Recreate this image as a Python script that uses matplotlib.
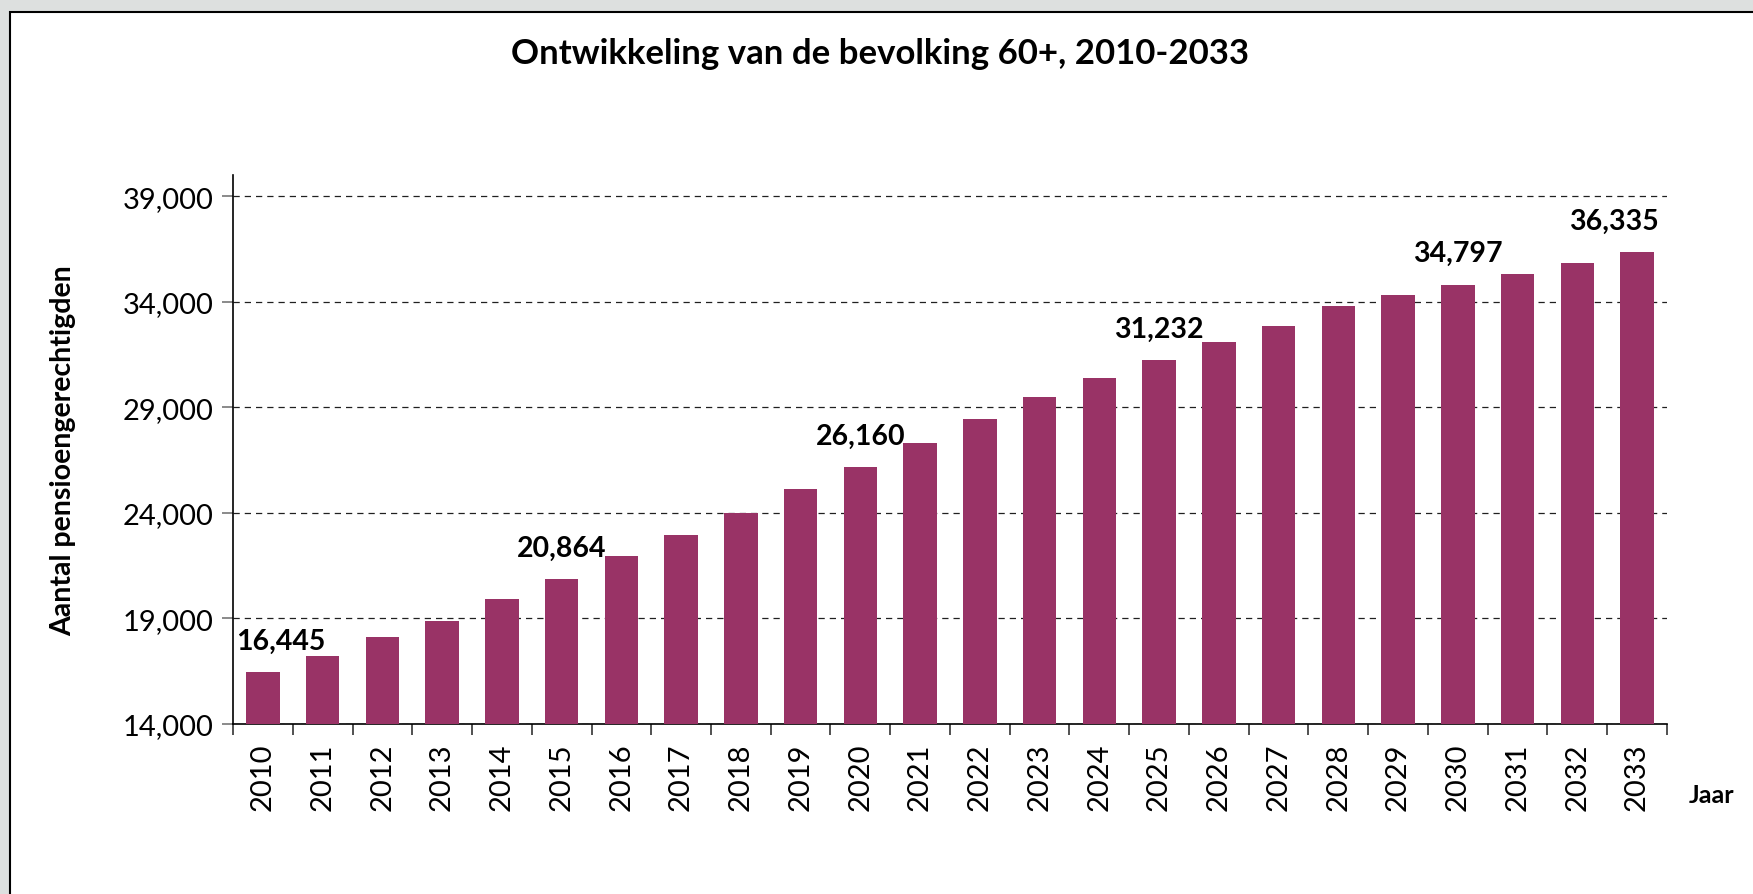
import numpy as np
import matplotlib.pyplot as plt
from matplotlib.patches import Rectangle

plt.rcParams['font.family'] = ['Lato', 'DejaVu Sans']

# data
years = [str(y) for y in range(2010, 2034)]
values = [16445, 17200, 18100, 18870, 19920, 20864, 21950, 22960, 23990, 25130,
          26160, 27300, 28450, 29490, 30400, 31232, 32110, 32870, 33780, 34300,
          34797, 35300, 35823, 36335]
labelled_years = ['2010', '2015', '2020', '2025', '2030', '2033']

title = 'Ontwikkeling van de bevolking 60+, 2010-2033'
ylabel = 'Aantal pensioengerechtigden'
xlabel = 'Jaar'

W, H = 1753, 895
fig = plt.figure(figsize=(W / 100, H / 100), dpi=100)
fig.patch.set_facecolor('#dde0df')

# white chart box, border only shows on top/left
box = Rectangle((10 / W, -0.1), 1.2, 1.1 - 13 / H, transform=fig.transFigure,
                facecolor='white', edgecolor='black', linewidth=1.5,
                zorder=-1, clip_on=False)
fig.patches.append(box)

ax = fig.add_axes([233 / W, 1 - 725 / H, (1667 - 233) / W, (725 - 176) / H])
ax.set_facecolor('none')

x = np.arange(len(years))
ax.bar(x, values, width=0.56, color='#993366', zorder=3)

ax.set_xlim(-0.5, len(years) - 0.5)
ax.set_ylim(14000, 40000)
ax.set_yticks(np.arange(14000, 39001, 5000))
ax.set_yticklabels(['{:,}'.format(v) for v in range(14000, 39001, 5000)], fontsize=21)
ax.yaxis.grid(True, linestyle=(0, (5, 4)), color='#202020', linewidth=0.9, zorder=1)

ax.set_xticks(x)
ax.set_xticklabels(years, rotation=90, fontsize=21)
ax.tick_params(axis='x', which='major', length=0, pad=13)
ax.set_xticks(np.arange(-0.5, len(years)), minor=True)
ax.tick_params(axis='x', which='minor', length=8, width=1.2, color='#333333', direction='out')
ax.tick_params(axis='y', length=8, width=1.2, color='#777777', pad=6)

for s in ['top', 'right']:
    ax.spines[s].set_visible(False)
for s in ['left', 'bottom']:
    ax.spines[s].set_color('black')
    ax.spines[s].set_linewidth(1.2)

# value labels on selected bars
shift = {'2010': 0.3, '2033': -0.38}
for i, (yr, v) in enumerate(zip(years, values)):
    if yr in labelled_years:
        ax.annotate('{:,}'.format(v), (i + shift.get(yr, 0), v),
                    xytext=(0, 17), textcoords='offset points',
                    ha='center', va='baseline', fontsize=20.5, fontweight='bold')

fig.text(880 / W, 1 - 54 / H, title, ha='center', va='center',
         fontsize=25, fontweight='bold')
fig.text(63 / W, 1 - 451 / H, ylabel, rotation=90, ha='center', va='center',
         fontsize=20.5, fontweight='bold')
fig.text(1712 / W, 1 - 796 / H, xlabel, ha='center', va='center',
         fontsize=18, fontweight='bold')

fig.savefig('out.png', dpi=100, facecolor=fig.get_facecolor())
